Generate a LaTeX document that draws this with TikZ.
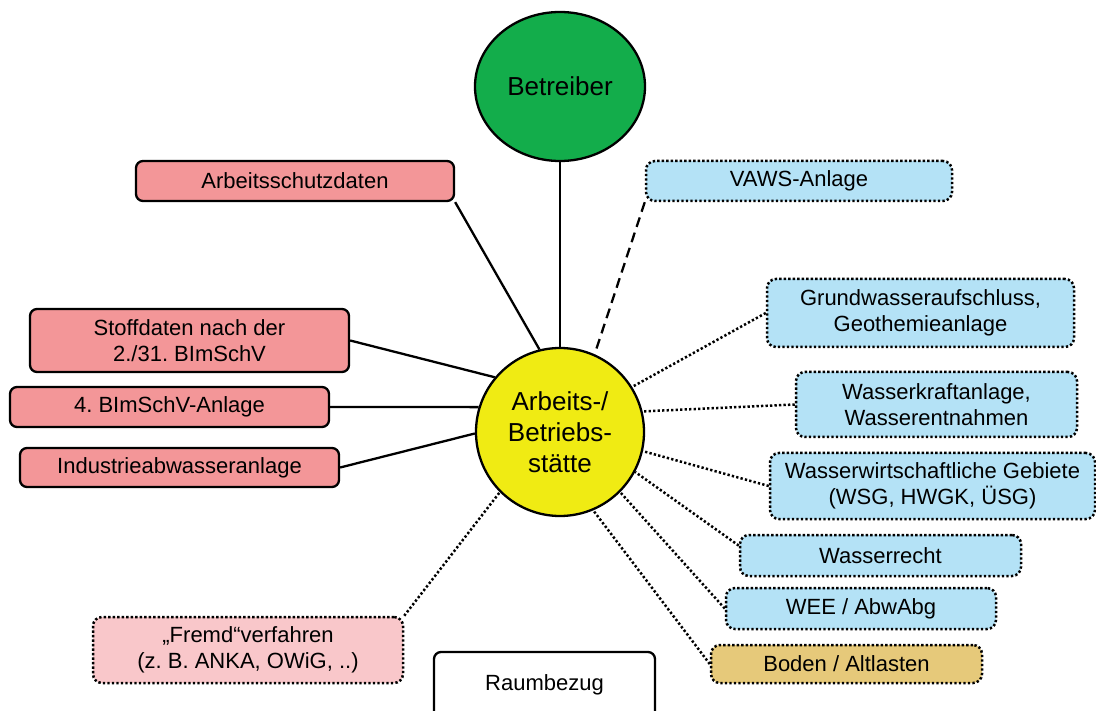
\documentclass[tikz,border=0pt]{standalone}
\usepackage{fontspec}
\setmainfont{Liberation Sans}
\frenchspacing
\usetikzlibrary{shapes.geometric}
\definecolor{redbox}{RGB}{243,150,152}
\definecolor{bluebox}{RGB}{180,226,246}
\definecolor{tanbox}{RGB}{230,201,122}
\definecolor{pinkbox}{RGB}{249,199,202}
\definecolor{greenc}{RGB}{19,173,75}
\definecolor{yellowc}{RGB}{240,235,19}
\begin{document}
\begin{tikzpicture}[x=1pt,y=-1pt,
  box/.style={draw=black, line width=2.3pt, rounded corners=7pt, inner sep=0pt, align=center, font=\fontsize{22}{26.5}\selectfont},
  dotbox/.style={box, rounded corners=9pt, line width=2.5pt, dash pattern=on 2.3pt off 2.2pt},
  con/.style={line width=2.3pt},
  dotcon/.style={line width=2.5pt, dash pattern=on 2.3pt off 2.2pt},
  dashcon/.style={line width=2.3pt, dash pattern=on 10pt off 6pt}]
\useasboundingbox (0,0) rectangle (1096,711);
\clip (0,0) rectangle (1096,711);
% centre nodes
\node[ellipse, draw=black, line width=2.3pt, fill=greenc, minimum width=170pt, minimum height=149pt, inner sep=0pt, font=\fontsize{26}{31}\selectfont] (betr) at (560,86.5) {Betreiber};
\node[circle, draw=black, line width=2.3pt, fill=yellowc, minimum size=168pt, inner sep=0pt, align=center, font=\fontsize{26}{31}\selectfont] (ctr) at (560,432) {Arbeits-/\\Betriebs-\\stätte};
% left boxes
\node[box, fill=redbox, minimum width=318pt, minimum height=40pt] (arb) at (295,181) {Arbeitsschutzdaten};
\node[box, fill=redbox, minimum width=319pt, minimum height=63pt] (stoff) at (189.5,340.5) {Stoffdaten nach der\\2./31. BImSchV};
\node[box, fill=redbox, minimum width=319pt, minimum height=40pt] (bim) at (169.5,407) {4. BImSchV-Anlage};
\node[box, fill=redbox, minimum width=319pt, minimum height=39pt] (ind) at (179.5,467.5) {Industrieabwasseranlage};
% right boxes
\node[dotbox, fill=bluebox, minimum width=306pt, minimum height=40pt] (vaws) at (799,181) {VAWS-Anlage};
\node[dotbox, fill=bluebox, minimum width=307pt, minimum height=68pt] (gw) at (920.5,313) {Grundwasseraufschluss,\\Geothemieanlage};
\node[dotbox, fill=bluebox, minimum width=281pt, minimum height=65pt] (wk) at (936.5,404.5) {Wasserkraftanlage,\\Wasserentnahmen};
\node[dotbox, fill=bluebox, minimum width=325pt, minimum height=66pt] (wsg) at (932.5,486) {Wasserwirtschaftliche Gebiete\\(WSG, HWGK, ÜSG)};
\node[dotbox, fill=bluebox, minimum width=281pt, minimum height=41pt] (wr) at (880.5,555.5) {Wasserrecht};
\node[dotbox, fill=bluebox, minimum width=270pt, minimum height=41pt] (wee) at (861,608.5) {WEE / AbwAbg};
\node[dotbox, fill=tanbox, minimum width=271pt, minimum height=38pt] (boden) at (846.5,664) {Boden / Altlasten};
% bottom boxes
\node[dotbox, fill=pinkbox, minimum width=310pt, minimum height=66pt] (fremd) at (248,650) {„Fremd“verfahren\\(z. B. ANKA, OWiG, ..)};
\node[box, fill=white, minimum width=221pt, minimum height=66pt] (raum) at (544.5,685) {Raumbezug};
% connectors
\draw[con] (betr.south) -- (ctr.north);
\draw[con] (arb.south east) -- (ctr.104);
\draw[con] (stoff.east) -- (ctr.140);
\draw[con] (bim.east) -- (ctr.163);
\draw[con] (ind.east) -- (ctr.181);
\draw[dashcon] (vaws.south west) -- (ctr.66);
\draw[dotcon] (gw.west) -- (ctr.32);
\draw[dotcon] (wk.west) -- (ctr.14);
\draw[dotcon] (wsg.west) -- (ctr.347);
\draw[dotcon] (wr.176) -- (ctr.332);
\draw[dotcon] (wee.west) -- (ctr.315);
\draw[dotcon] (boden.west) -- (ctr.293);
\draw[dotcon] (fremd.north east) -- (ctr.225);
\end{tikzpicture}
\end{document}
